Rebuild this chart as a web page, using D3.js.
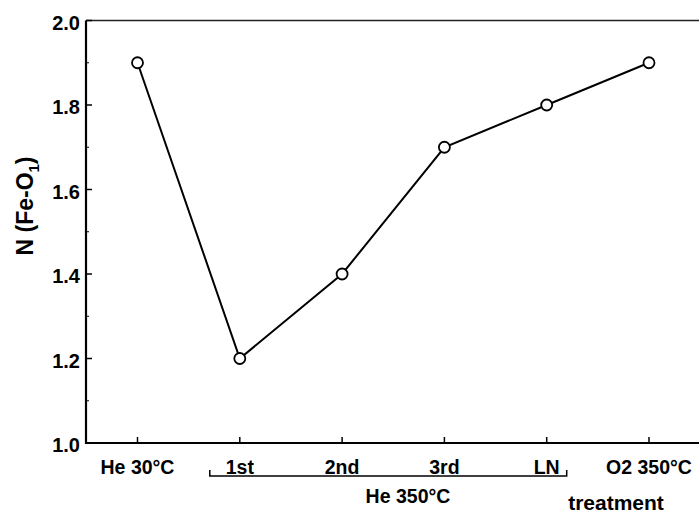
<!DOCTYPE html>
<html>
<head>
<meta charset="utf-8">
<script src="https://cdn.jsdelivr.net/npm/d3@7"></script>
<style>
  html, body { margin: 0; padding: 0; background: #fff; }
  svg { display: block; font-family: "Liberation Sans", Arial, sans-serif; font-weight: bold; }
</style>
</head>
<body>
<svg id="chart" width="699" height="513"></svg>
<script>
// Coordination number of the Fe-O1 shell after each treatment
const categories = ["He 30°C", "1st", "2nd", "3rd", "LN", "O2 350°C"];
const values = [1.9, 1.2, 1.4, 1.7, 1.8, 1.9];
const yTicks = [1.0, 1.2, 1.4, 1.6, 1.8, 2.0];
const yMinorTicks = [1.1, 1.3, 1.5, 1.7, 1.9];
const groupLabel = "He 350°C";
const groupMembers = ["1st", "2nd", "3rd", "LN"];

const svg = d3.select("#chart");
const plotLeft = 86, plotRight = 699, plotTop = 20.5, plotBottom = 443;

const x = d3.scalePoint().domain(categories).range([137.5, 649]);
const y = d3.scaleLinear().domain([1.0, 2.0]).range([plotBottom, plotTop]);

// Frame: thin top line, heavier left and bottom axes (open on the right)
svg.append("path")
  .attr("d", `M${plotLeft},${plotTop}H${plotRight}`)
  .attr("fill", "none").attr("stroke", "#222").attr("stroke-width", 1.5);
svg.append("path")
  .attr("d", `M${plotLeft},${plotTop}V${plotBottom}H${plotRight}`)
  .attr("fill", "none").attr("stroke", "#000").attr("stroke-width", 2.2);

// Y axis ticks (pointing inward) and labels
const yAxis = svg.append("g");
yAxis.selectAll("line.major").data(yTicks).join("line").attr("class", "major")
  .attr("x1", plotLeft).attr("x2", plotLeft + 6)
  .attr("y1", d => y(d)).attr("y2", d => y(d))
  .attr("stroke", "#000").attr("stroke-width", 1.5);
yAxis.selectAll("line.minor").data(yMinorTicks).join("line").attr("class", "minor")
  .attr("x1", plotLeft).attr("x2", plotLeft + 3)
  .attr("y1", d => y(d)).attr("y2", d => y(d))
  .attr("stroke", "#000").attr("stroke-width", 1);
yAxis.selectAll("text").data(yTicks).join("text")
  .attr("x", plotLeft - 6).attr("y", d => y(d) + 9)
  .attr("text-anchor", "end")
  .attr("font-size", 20)
  .text(d => d.toFixed(1));

// X axis ticks (pointing inward) and labels
const xAxis = svg.append("g");
xAxis.selectAll("line").data(categories).join("line")
  .attr("x1", d => x(d)).attr("x2", d => x(d))
  .attr("y1", plotBottom).attr("y2", plotBottom - 6)
  .attr("stroke", "#000").attr("stroke-width", 1.5);
xAxis.selectAll("text").data(categories).join("text")
  .attr("x", d => x(d)).attr("y", 474)
  .attr("text-anchor", "middle")
  .attr("font-size", 19.5)
  .text(d => d);

// Bracket grouping the He 350°C steps
const gx0 = x(groupMembers[0]) - 30, gx1 = x(groupMembers[groupMembers.length - 1]) + 20;
svg.append("path")
  .attr("d", `M${gx0},470V476H${gx1}V470`)
  .attr("fill", "none").attr("stroke", "#000").attr("stroke-width", 1.5);
svg.append("text")
  .attr("x", 408).attr("y", 503)
  .attr("text-anchor", "middle").attr("font-size", 19.5)
  .text(groupLabel);

// Axis titles
svg.append("text")
  .attr("x", 616).attr("y", 510)
  .attr("text-anchor", "middle").attr("font-size", 21)
  .text("treatment");

const yTitle = svg.append("text")
  .attr("transform", `translate(33,206) rotate(-90)`)
  .attr("text-anchor", "middle").attr("font-size", 23);
yTitle.append("tspan").text("N (Fe-O");
yTitle.append("tspan").attr("font-size", 15).attr("dy", 6).text("1");
yTitle.append("tspan").attr("dy", -6).text(")");

// Data line and markers
const pts = categories.map((c, i) => [x(c), y(values[i])]);
svg.append("path")
  .attr("d", d3.line()(pts))
  .attr("fill", "none").attr("stroke", "#000").attr("stroke-width", 2);
svg.selectAll("circle").data(pts).join("circle")
  .attr("cx", d => d[0]).attr("cy", d => d[1]).attr("r", 5.5)
  .attr("fill", "#fff").attr("stroke", "#000").attr("stroke-width", 1.8);
</script>
</body>
</html>
